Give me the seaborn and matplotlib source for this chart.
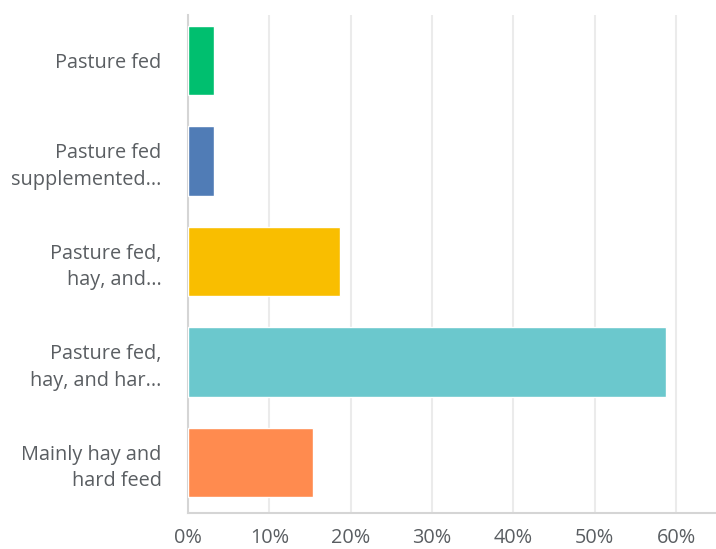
import matplotlib
matplotlib.use("Agg")
import matplotlib.pyplot as plt
import seaborn as sns
import pandas as pd
from matplotlib.ticker import FixedLocator

categories = [
    "Pasture fed",
    "Pasture fed\nsupplemented...",
    "Pasture fed,\nhay, and...",
    "Pasture fed,\nhay, and har...",
    "Mainly hay and\nhard feed",
]
values = [3.2, 3.2, 18.7, 58.7, 15.4]
colors = ["#00bf6f", "#507cb6", "#f9be00", "#6bc8cd", "#ff8b4f"]
xticks = [0, 10, 20, 30, 40, 50, 60]
xticklabels = ["0%", "10%", "20%", "30%", "40%", "50%", "60%"]

sns.set_theme(style="white")
plt.rcParams["font.family"] = ["Open Sans", "DejaVu Sans"]

df = pd.DataFrame({"cat": categories, "val": values})

fig = plt.figure(figsize=(7.16, 5.49), dpi=100)
ax = fig.add_axes([0.2626, 0.0656, 0.7374, 0.9071])

ax.xaxis.set_major_locator(FixedLocator(xticks))
ax.grid(axis="x", color="#ebebeb", linewidth=1.5, zorder=0)
ax.set_axisbelow(True)

sns.barplot(data=df, y="cat", x="val", hue="cat", palette=colors,
            width=0.69, legend=False, ax=ax, saturation=1, zorder=3)

ax.set_xlim(0, 64.9)
ax.set_ylim(4.503, -0.451)
ax.set_xticks(xticks)
ax.set_xticklabels(xticklabels)
ax.set_xlabel("")
ax.set_ylabel("")

for s in ["top", "right"]:
    ax.spines[s].set_visible(False)
ax.spines["bottom"].set_color("#d5d5d5")
ax.spines["bottom"].set_linewidth(1.5)
ax.spines["left"].set_color("#d5d5d5")
ax.spines["left"].set_linewidth(1.5)

ax.tick_params(axis="x", length=0, pad=11, labelsize=14.3, labelcolor="#5a5e62")
ax.tick_params(axis="y", length=0, pad=19, labelsize=14.3, labelcolor="#5a5e62")
for t in ax.get_yticklabels():
    t.set_linespacing(1.42)
    t.set_horizontalalignment("right")

fig.savefig("out.png", dpi=100, facecolor="white")
